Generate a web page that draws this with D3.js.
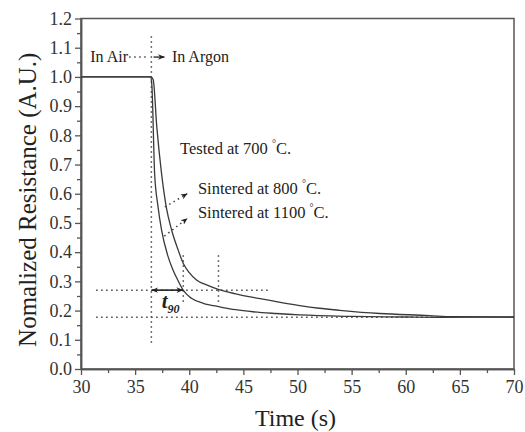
<!DOCTYPE html>
<html>
<head>
<meta charset="utf-8">
<script src="https://cdn.jsdelivr.net/npm/d3@7"></script>
<style>
  body { margin: 0; background: #fff; }
  svg { font-family: "Liberation Serif", "Times New Roman", serif; }
</style>
</head>
<body>
<svg></svg>
<script>
// sintered at 800 °C (slower curve)
const times800 = [30, 33, 36.45, 36.67, 37.0, 37.44, 37.9, 38.37, 38.98, 39.44, 40.0, 40.67, 41.6, 42.67, 44.2, 45.9, 47.2, 48.4, 50.2, 52.0, 53.9, 57.6, 62.2, 64.3, 70];
const values800 = [1.0, 1.0, 1.0, 0.99, 0.83, 0.67, 0.55, 0.476, 0.407, 0.362, 0.33, 0.305, 0.288, 0.273, 0.258, 0.245, 0.237, 0.228, 0.217, 0.208, 0.201, 0.19, 0.183, 0.179, 0.178];

// sintered at 1100 °C (faster curve)
const times1100 = [30, 33, 36.45, 36.55, 36.8, 37.1, 37.44, 38.0, 38.5, 39.0, 39.44, 40.2, 41.3, 42.8, 44.3, 45.9, 48.0, 50.2, 55.0, 60.0, 63.0, 70];
const values1100 = [1.0, 1.0, 1.0, 0.97, 0.67, 0.56, 0.476, 0.39, 0.339, 0.3, 0.27, 0.242, 0.225, 0.213, 0.203, 0.196, 0.19, 0.185, 0.18, 0.178, 0.177, 0.178];

const xTicks = [30, 35, 40, 45, 50, 55, 60, 65, 70];
const yTicks = [0.0, 0.1, 0.2, 0.3, 0.4, 0.5, 0.6, 0.7, 0.8, 0.9, 1.0, 1.1, 1.2];

// dotted guide lines, in data units
const guideH = [
  { y: 0.27, x0: 31.4, x1: 47.4 },
  { y: 0.177, x0: 31.4, x1: 64.5 }
];
const guideV = [
  { x: 36.5, y0: 0.09, y1: 1.14 },
  { x: 39.45, y0: 0.23, y1: 0.40 },
  { x: 42.7, y0: 0.23, y1: 0.40 }
];

const width = 525, height = 432;
const margin = { top: 18.5, right: 11, bottom: 63, left: 81 };

const svg = d3.select("svg").attr("width", width).attr("height", height);

const x = d3.scaleLinear().domain([30, 70]).range([margin.left, width - margin.right]);
const y = d3.scaleLinear().domain([0, 1.2]).range([height - margin.bottom, margin.top]);

const ink = "#3a3a3a";

const defs = svg.append("defs");
defs.append("marker")
  .attr("id", "head")
  .attr("viewBox", "0 0 10 10")
  .attr("refX", 9).attr("refY", 5)
  .attr("markerWidth", 7).attr("markerHeight", 7)
  .attr("markerUnits", "userSpaceOnUse")
  .attr("orient", "auto-start-reverse")
  .append("path")
  .attr("d", "M0,1 L10,5 L0,9 L3,5 Z")
  .attr("fill", "#222");

// frame
svg.append("rect")
  .attr("x", x(30)).attr("y", y(1.2))
  .attr("width", x(70) - x(30)).attr("height", y(0) - y(1.2))
  .attr("fill", "none").attr("stroke", "#555").attr("stroke-width", 1.5);

// axes
svg.append("g")
  .attr("transform", `translate(0,${y(0)})`)
  .call(d3.axisBottom(x).tickValues(xTicks).tickSize(6).tickSizeOuter(0).tickPadding(5).tickFormat(d3.format("d")));
svg.append("g")
  .attr("transform", `translate(0,${y(0)})`)
  .call(d3.axisBottom(x).tickValues(d3.range(32.5, 70, 5)).tickSize(4).tickSizeOuter(0).tickFormat(""));

svg.append("g")
  .attr("transform", `translate(${x(30)},0)`)
  .call(d3.axisLeft(y).tickValues(yTicks).tickSize(6).tickSizeOuter(0).tickPadding(3).tickFormat(d3.format(".1f")));
svg.append("g")
  .attr("transform", `translate(${x(30)},0)`)
  .call(d3.axisLeft(y).tickValues(d3.range(0.05, 1.2, 0.1)).tickSize(4).tickSizeOuter(0).tickFormat(""));

svg.selectAll(".domain").attr("stroke", "#555").attr("stroke-width", 1.5);
svg.selectAll(".tick line").attr("stroke", "#555").attr("stroke-width", 1.3);
svg.selectAll(".tick text")
  .attr("font-family", "Liberation Serif, serif")
  .attr("font-size", 18).attr("fill", "#333");

// axis titles
svg.append("text")
  .attr("x", (x(30) + x(70)) / 2 - 2).attr("y", 426)
  .attr("text-anchor", "middle")
  .attr("font-size", 24).attr("fill", "#222")
  .text("Time (s)");

svg.append("text")
  .attr("transform", `translate(36,${(y(0) + y(1.2)) / 2 + 6}) rotate(-90)`)
  .attr("text-anchor", "middle")
  .attr("font-size", 25).attr("fill", "#222")
  .text("Nomalized Resistance (A.U.)");

// guide lines
const dotted = g => g.attr("stroke", "#444").attr("stroke-width", 1.5)
  .attr("stroke-dasharray", "1.5,3.5").attr("fill", "none");

svg.append("g").selectAll("line").data(guideH).join("line")
  .attr("x1", d => x(d.x0)).attr("x2", d => x(d.x1))
  .attr("y1", d => y(d.y)).attr("y2", d => y(d.y))
  .call(dotted);
svg.append("g").selectAll("line").data(guideV).join("line")
  .attr("x1", d => x(d.x)).attr("x2", d => x(d.x))
  .attr("y1", d => y(d.y0)).attr("y2", d => y(d.y1))
  .call(dotted);

// curves
const line = d3.line()
  .x(d => x(d[0]))
  .y(d => y(d[1]))
  .curve(d3.curveMonotoneX);

svg.append("path")
  .datum(d3.zip(times800, values800))
  .attr("d", line)
  .attr("fill", "none").attr("stroke", ink).attr("stroke-width", 1.3);
svg.append("path")
  .datum(d3.zip(times1100, values1100))
  .attr("d", line)
  .attr("fill", "none").attr("stroke", ink).attr("stroke-width", 1.3);

// t90 arrow
svg.append("line")
  .attr("x1", x(36.55)).attr("x2", x(39.4))
  .attr("y1", y(0.27)).attr("y2", y(0.27))
  .attr("stroke", "#222").attr("stroke-width", 1.6)
  .attr("marker-start", "url(#head)").attr("marker-end", "url(#head)");

const t90 = svg.append("text")
  .attr("x", x(37.45)).attr("y", y(0.21))
  .attr("font-size", 21).attr("font-weight", "bold").attr("font-style", "italic")
  .attr("fill", "#222");
t90.append("tspan").text("t");
t90.append("tspan").attr("font-size", 12).attr("dy", 5).text("90");

// In Air / In Argon
svg.append("text")
  .attr("x", x(30.85)).attr("y", y(1.068) + 5)
  .attr("font-size", 16).attr("fill", "#222")
  .text("In Air");
svg.append("line")
  .attr("x1", x(34.45)).attr("x2", x(36.3))
  .attr("y1", y(1.068)).attr("y2", y(1.068))
  .call(dotted);
svg.append("line")
  .attr("x1", x(36.7)).attr("x2", x(37.7))
  .attr("y1", y(1.068)).attr("y2", y(1.068))
  .attr("stroke", "#222").attr("stroke-width", 1.3)
  .attr("marker-end", "url(#head)");
svg.append("text")
  .attr("x", x(38.4)).attr("y", y(1.068) + 5)
  .attr("font-size", 16).attr("fill", "#222")
  .text("In Argon");

// annotation labels with degree sign
const degreeLabel = (tx, ty, before) => {
  const t = svg.append("text")
    .attr("x", x(tx)).attr("y", y(ty))
    .attr("font-size", 16.5).attr("fill", "#222");
  t.append("tspan").text(before + " ");
  t.append("tspan").attr("font-size", 10).attr("dy", -7).text("°");
  t.append("tspan").attr("dy", 7).text("C.");
};
degreeLabel(39.15, 0.735, "Tested at 700");
degreeLabel(40.8, 0.6, "Sintered at 800");
degreeLabel(40.8, 0.518, "Sintered at 1100");

// pointers from curves to labels
const pointers = [
  { x0: 37.75, y0: 0.555, x1: 39.8, y1: 0.6 },
  { x0: 37.7, y0: 0.455, x1: 39.8, y1: 0.515 }
];
svg.append("g").selectAll("line").data(pointers).join("line")
  .attr("x1", d => x(d.x0)).attr("y1", d => y(d.y0))
  .attr("x2", d => x(d.x1)).attr("y2", d => y(d.y1))
  .call(dotted)
  .attr("marker-end", "url(#head)");
</script>
</body>
</html>
